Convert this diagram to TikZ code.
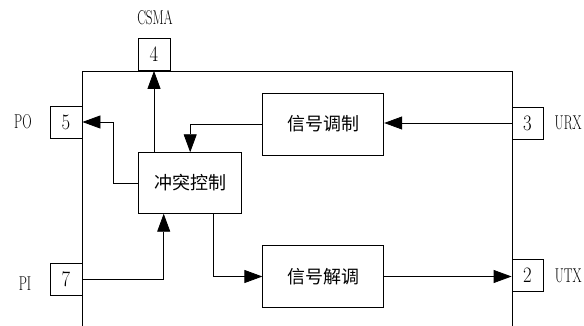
\documentclass[tikz,border=0pt]{standalone}
\usepackage{fontspec}
\usepackage{graphicx}
\newfontfamily\cjk{Noto Sans CJK SC}
\newcommand{\narrow}[2][0.65]{\scalebox{#1}[1]{#2}}
\usepackage{tikz}
\usetikzlibrary{arrows.meta,positioning,calc}

\begin{document}
\begin{tikzpicture}[x=1pt,y=-1pt,line width=0.8pt,
		pin/.style={draw,minimum width=32pt,minimum height=32pt,inner sep=0pt,font=\fontsize{22}{22}\selectfont},
		blk/.style={draw,minimum width=121pt,minimum height=62pt,inner sep=0pt,font=\cjk\fontsize{18}{18}\selectfont},
		lbl/.style={inner sep=0pt,font=\fontsize{20}{20}\selectfont},
		arr/.style={-{Triangle[length=18pt,width=13pt]}}]
				\useasboundingbox (0,0) rectangle (584,326);
				
				\draw (82,326) -- (82,71) -- (512,71) -- (512,326);
				
				\node [pin] (p4) at (154,54.5) {\narrow[0.85]{4}};
				\node [pin] (p5) at (66,122) {\narrow[0.85]{5}};
				\node [pin, minimum width=31pt] (p3) at (527.5,123) {\narrow[0.85]{3}};
				\node [pin] (p7) at (66,279) {\narrow[0.85]{7}};
				\node [pin, minimum width=31pt] (p2) at (527.5,275.5) {\narrow[0.85]{2}};
				
				\node [blk] (mod) at (323.3,124) {信号调制};
				\node [blk, minimum width=103pt, minimum height=60.6pt] (ctl) at (190.2,183) {冲突控制};
				\node [blk] (dem) at (323.3,276.5) {信号解调};
				
				% % % % % % % % % % % % % % % % % % % % % % % % % %
				
				\draw [arr] (ctl.north -| p4) -- (p4.south);
				\draw [arr] (mod.west) -| (ctl.north);
				\draw [arr] (ctl.west) -- ++(-24.7,0) |- (p5.east);
				\draw [arr] (p3.west) -- (p3.west -| mod.east);
				\draw [arr] (p7.east) -| ([xshift=-26.5pt]ctl.south);
				\draw [arr] ([xshift=23pt]ctl.south) |- (dem.west);
				\draw [arr] (dem.east) -- (dem.east -| p2.west);
				
				\node [lbl] (csma) at (155,18) {\narrow{CSMA}};
				\node [lbl] (po) at (23,122) {\narrow{PO}};
				\node [lbl, anchor=east] (urx) at (582,123) {\narrow{URX}};
				\node [lbl] (pi) at (25,284) {\narrow{PI}};
				\node [lbl, anchor=east] (utx) at (582,276) {\narrow{UTX}};
				\end{tikzpicture}
\end{document}
